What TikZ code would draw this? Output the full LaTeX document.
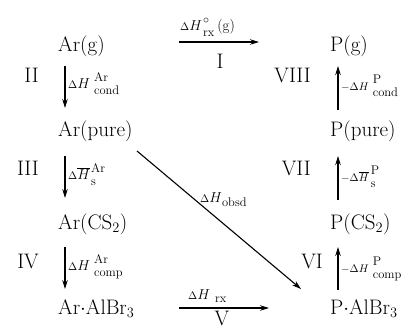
\documentclass[tikz,border=0pt]{standalone}
\usetikzlibrary{arrows.meta,calc}
\newcommand\dlt{{\scriptstyle\Delta}}
\newcommand\scr[1]{\mbox{\fontsize{12.5}{12.5}\selectfont #1}}
\newcommand\stk[2]{\mbox{\rlap{\raisebox{7pt}{\scr{#1}}}\raisebox{-6pt}{\scr{#2}}}}
\begin{document}
\begin{tikzpicture}[x=1pt,y=-1pt,
  sp/.style={font=\fontsize{21}{24}\selectfont, inner sep=0pt, anchor=base west},
  rnl/.style={font=\fontsize{21}{24}\selectfont, inner sep=0pt, anchor=base east},
  rnc/.style={font=\fontsize{21}{24}\selectfont, inner sep=0pt, anchor=base},
  lb/.style={font=\fontsize{15}{18}\selectfont, inner sep=0pt, anchor=base west},
  ar/.style={line width=1.1pt, -{Stealth[length=9pt,width=5.5pt]}},
]
\useasboundingbox (0,0) rectangle (413,330);
% species
\node[sp] (ag) at (58,51) {Ar(g)};
\node[sp] (ap) at (58,136) {Ar(pure)};
\node[sp] (ac) at (58,229) {Ar(CS$_2$)};
\node[sp] (aa) at (58,314) {Ar$\cdot$AlBr$_3$};
\node[sp] (pg) at (330,51) {P(g)};
\node[sp] (pp) at (330,136) {P(pure)};
\node[sp] (pc) at (330,229) {P(CS$_2$)};
\node[sp] (pa) at (330,314) {P$\cdot$AlBr$_3$};
% roman numerals
\node[rnl] (n2) at (39,82) {II};
\node[rnl] (n3) at (39,175) {III};
\node[rnl] (n4) at (39,268) {IV};
\node[rnl] (n8) at (311,82) {VIII};
\node[rnl] (n7) at (311,175) {VII};
\node[rnl] (n6) at (323,268) {VI};
\node[rnc] (n1) at (220,68) {I};
\node[rnc] (n5) at (222,325) {V};
% arrow end points
\coordinate (a2s) at (65,66);  \coordinate (a2e) at (65,108);
\coordinate (a3s) at (65,156); \coordinate (a3e) at (65,198);
\coordinate (a4s) at (65,247); \coordinate (a4e) at (65,289);
\coordinate (a8s) at (338,110); \coordinate (a8e) at (338,66);
\coordinate (a7s) at (338,200); \coordinate (a7e) at (338,156);
\coordinate (a6s) at (338,290); \coordinate (a6e) at (338,247);
\coordinate (a1s) at (179,42); \coordinate (a1e) at (259,42);
\coordinate (a5s) at (179,308); \coordinate (a5e) at (269,308);
\coordinate (obs) at (137,151); \coordinate (obe) at (301,289);
\draw[ar] (a2s) -- (a2e);
\draw[ar] (a3s) -- (a3e);
\draw[ar] (a4s) -- (a4e);
\draw[ar] (a8s) -- (a8e);
\draw[ar] (a7s) -- (a7e);
\draw[ar] (a6s) -- (a6e);
\draw[ar] (a1s) -- (a1e);
\draw[ar] (a5s) -- (a5e);
\draw[ar] (obs) -- (obe);
% labels
\node[lb] (l2) at (68,88) {$\dlt H$\kern4pt\stk{Ar}{cond}};
\node[lb] (l3) at (68,179) {$\dlt \overline{H}$\kern1pt\stk{Ar}{s}};
\node[lb] (l4) at (68,270) {$\dlt H$\kern4pt\stk{Ar}{comp}};
\node[lb] (l8) at (341,90) {$\scriptstyle-\dlt H$\kern4pt\stk{P}{cond}};
\node[lb] (l7) at (341,181) {$\scriptstyle-\dlt \overline{H}$\kern2pt\stk{P}{s}};
\node[lb] (l6) at (341,272) {$\scriptstyle-\dlt H$\kern4pt\stk{P}{comp}};
\node[lb] (l1) at (180,30) {$\dlt H$\kern1pt\stk{$\circ$}{rx}\kern3pt(g)};
\node[lb] (l5) at (188,299) {$\dlt H$\kern5pt\raisebox{-3pt}{\scr{rx}}};
\node[lb] (lo) at (200,202) {$\dlt H$\raisebox{-4pt}{\scr{obsd}}};
\end{tikzpicture}
\end{document}
